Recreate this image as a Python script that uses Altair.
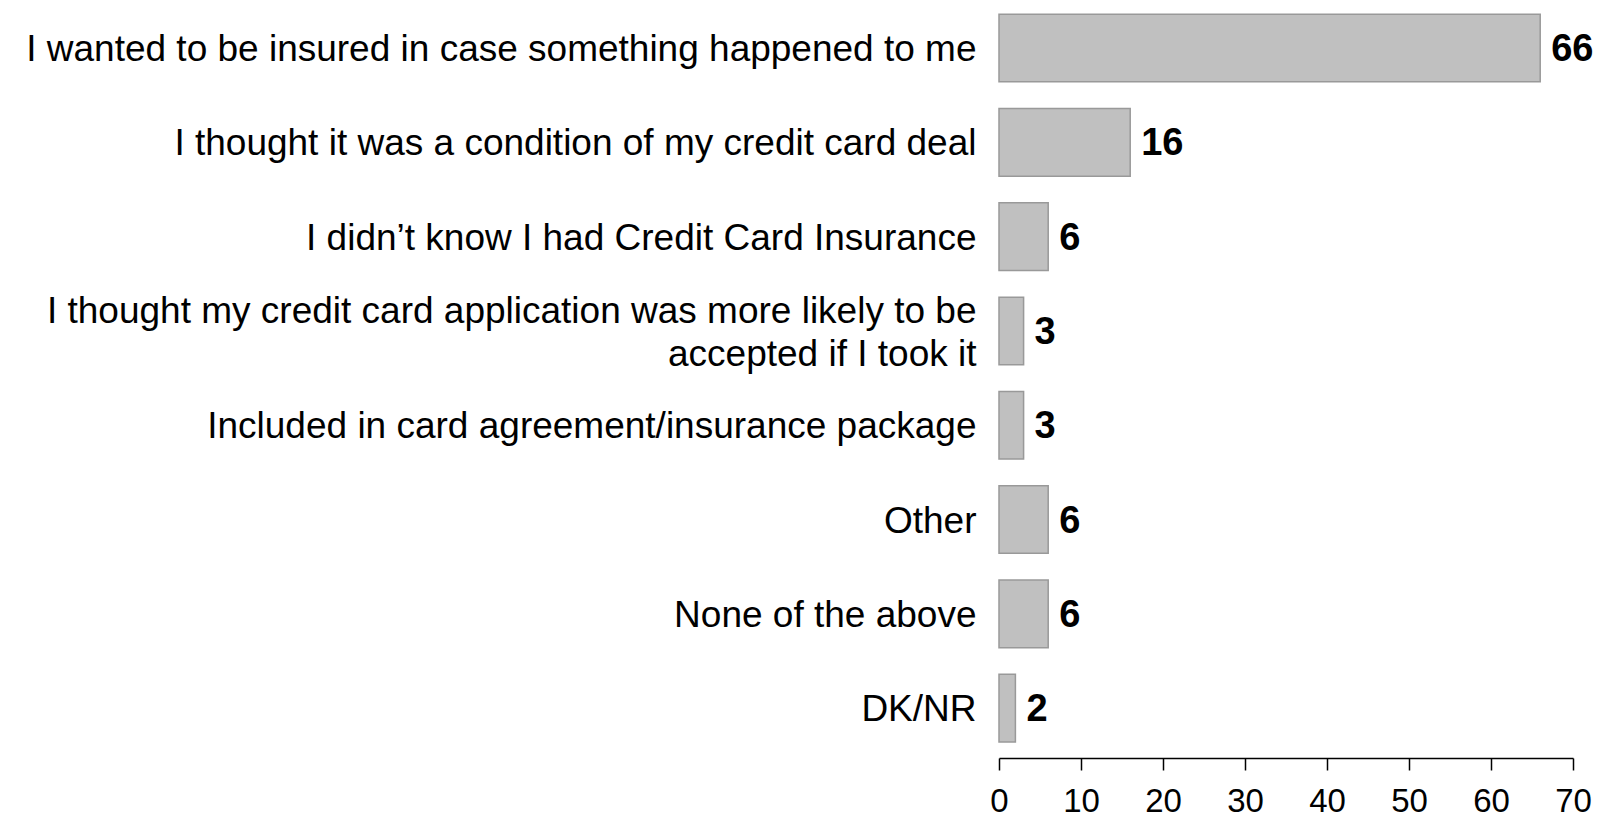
import altair as alt
import pandas as pd

categories = [
    "I wanted to be insured in case something happened to me",
    "I thought it was a condition of my credit card deal",
    "I didn\u2019t know I had Credit Card Insurance",
    "I thought my credit card application was more likely to be|accepted if I took it",
    "Included in card agreement/insurance package",
    "Other",
    "None of the above",
    "DK/NR",
]
values = [66, 16, 6, 3, 3, 6, 6, 2]
x_ticks = [0, 10, 20, 30, 40, 50, 60, 70]

df = pd.DataFrame({"cat": categories, "val": values})

FONT = "Liberation Sans"

y_enc = alt.Y(
    "cat:N",
    sort=categories,
    title=None,
    scale=alt.Scale(paddingInner=0.283, paddingOuter=0.118, align=0.28),
    axis=alt.Axis(
        domain=False, ticks=False, grid=False, labelFontSize=37, labelFont=FONT,
        labelColor="black", labelPadding=23, labelLimit=1000,
        labelExpr="split(datum.label, '|')", labelLineHeight=43,
        labelOffset={"condition": {"test": "indexof(datum.value, '|') >= 0", "value": -19}, "value": 2},
    ),
)
x_enc = alt.X(
    "val:Q",
    title=None,
    scale=alt.Scale(domain=[0, 70], nice=False),
    axis=alt.Axis(
        values=x_ticks, grid=False, domainColor="black", domainWidth=1.5,
        tickColor="black", tickWidth=1.5, tickSize=12, labelFontSize=33,
        labelFont=FONT, labelColor="black", labelPadding=15, labelFlush=False,
    ),
)

bars = alt.Chart(df).mark_bar(
    color="#c0c0c0", stroke="#999999", strokeWidth=1.5
).encode(x=x_enc, y=y_enc)

text = alt.Chart(df).mark_text(
    align="left", baseline="middle", dx=11, dy=2, fontSize=38, fontWeight="bold",
    font=FONT, color="black"
).encode(
    x=alt.X("val:Q"),
    y=alt.Y("cat:N", sort=categories),
    text="val:Q",
)

chart = (bars + text).properties(
    width=574,
    height=750,
    background="white",
    autosize=alt.AutoSizeParams(type="none"),
    padding={"left": 991, "top": 0, "right": 20, "bottom": 59},
).configure_view(stroke=None, strokeWidth=0).configure_axis(grid=False)

chart.save("out.html", embed_options={"renderer": "svg", "actions": False})
